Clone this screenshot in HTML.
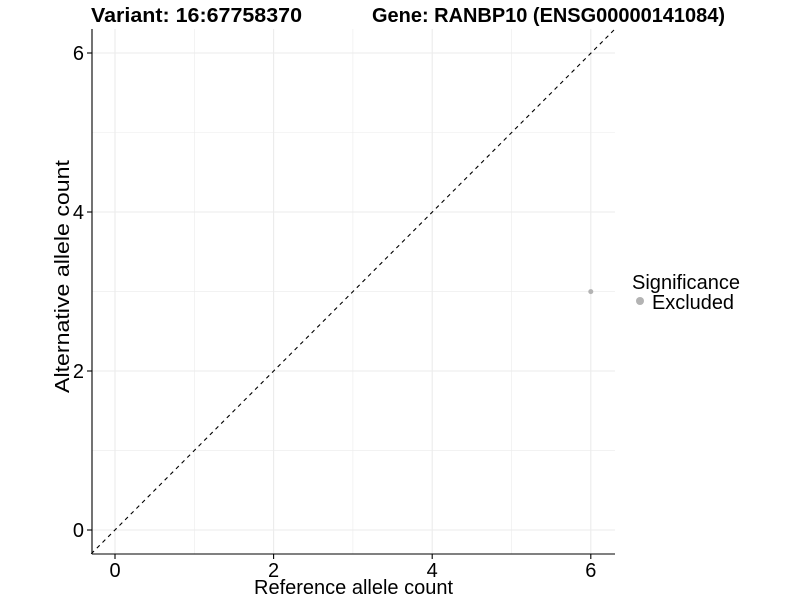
<!DOCTYPE html>
<html><head><style>body{margin:0;background:#fff}</style></head><body>
<svg width="800" height="600" xmlns="http://www.w3.org/2000/svg" font-family="Liberation Sans, sans-serif">
<rect width="800" height="600" fill="#fff"/>
<g stroke="#ebebeb" stroke-width="0.6">
<line x1="194.3" y1="29" x2="194.3" y2="554"/><line x1="352.9" y1="29" x2="352.9" y2="554"/><line x1="511.5" y1="29" x2="511.5" y2="554"/>
<line x1="92" y1="450.7" x2="615" y2="450.7"/><line x1="92" y1="291.6" x2="615" y2="291.6"/><line x1="92" y1="132.5" x2="615" y2="132.5"/>
</g>
<g stroke="#ebebeb" stroke-width="1.1">
<line x1="115" y1="29" x2="115" y2="554"/><line x1="273.6" y1="29" x2="273.6" y2="554"/><line x1="432.2" y1="29" x2="432.2" y2="554"/><line x1="590.8" y1="29" x2="590.8" y2="554"/>
<line x1="92" y1="530" x2="615" y2="530"/><line x1="92" y1="371" x2="615" y2="371"/><line x1="92" y1="212" x2="615" y2="212"/><line x1="92" y1="53" x2="615" y2="53"/>
</g>
<line x1="91.2" y1="553.8" x2="614.8" y2="29.2" stroke="#000" stroke-width="1.1" stroke-dasharray="4,4"/>
<circle cx="590.8" cy="291.6" r="2.5" fill="#b3b3b3"/>
<g stroke="#000" stroke-width="1.1">
<line x1="92" y1="29" x2="92" y2="554"/><line x1="92" y1="554" x2="615" y2="554"/>
<line x1="87" y1="530" x2="92" y2="530"/><line x1="87" y1="371" x2="92" y2="371"/><line x1="87" y1="212" x2="92" y2="212"/><line x1="87" y1="53" x2="92" y2="53"/>
<line x1="115" y1="554" x2="115" y2="559"/><line x1="273.6" y1="554" x2="273.6" y2="559"/><line x1="432.2" y1="554" x2="432.2" y2="559"/><line x1="590.8" y1="554" x2="590.8" y2="559"/>
</g>
<g font-size="20" fill="#000" text-anchor="end">
<text x="84" y="537">0</text><text x="84" y="378">2</text><text x="84" y="219">4</text><text x="84" y="60">6</text>
</g>
<g font-size="20" fill="#000" text-anchor="middle">
<text x="115" y="577">0</text><text x="273.6" y="577">2</text><text x="432.2" y="577">4</text><text x="590.8" y="577">6</text>
</g>
<text x="254" y="594" font-size="20" textLength="199" lengthAdjust="spacingAndGlyphs">Reference allele count</text>
<text transform="translate(69,393) rotate(-90)" font-size="20" textLength="233" lengthAdjust="spacingAndGlyphs">Alternative allele count</text>
<text x="91" y="22" font-size="20" font-weight="bold" textLength="211" lengthAdjust="spacingAndGlyphs">Variant: 16:67758370</text>
<text x="372" y="22" font-size="20" font-weight="bold" textLength="353" lengthAdjust="spacingAndGlyphs">Gene: RANBP10 (ENSG00000141084)</text>
<text x="632" y="289" font-size="20" textLength="108" lengthAdjust="spacingAndGlyphs">Significance</text>
<circle cx="640" cy="301" r="4" fill="#b3b3b3"/>
<text x="652" y="309" font-size="20" textLength="82" lengthAdjust="spacingAndGlyphs">Excluded</text>
</svg>
</body></html>
